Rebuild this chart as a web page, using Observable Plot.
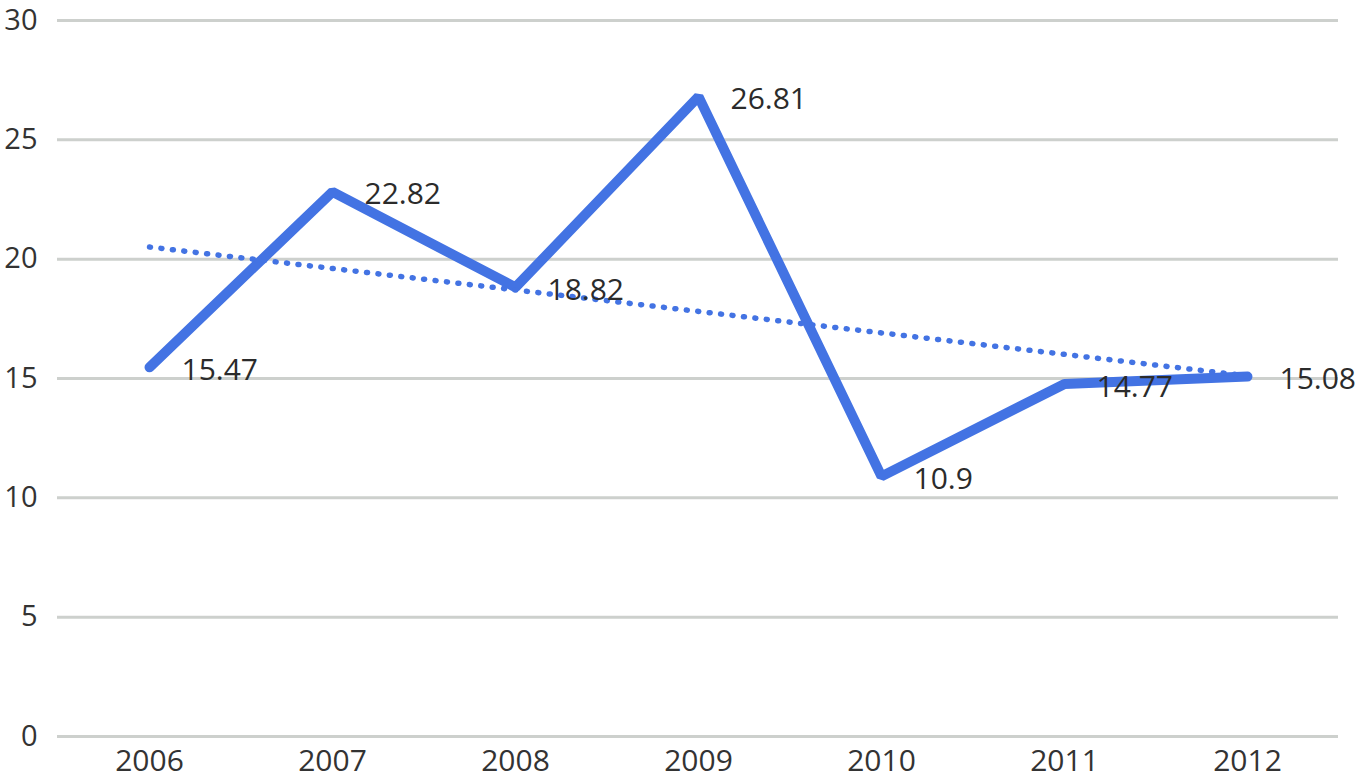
<!DOCTYPE html>
<html>
<head>
<meta charset="utf-8">
<script src="https://cdn.jsdelivr.net/npm/d3@7"></script>
<script src="https://cdn.jsdelivr.net/npm/@observablehq/plot@0.6"></script>
<style>
  html, body { margin: 0; padding: 0; background: #fff; }
  #chart svg { display: block; overflow: visible; }
</style>
</head>
<body>
<div id="chart"></div>
<script>
const years = ["2006", "2007", "2008", "2009", "2010", "2011", "2012"];
const values = [15.47, 22.82, 18.82, 26.81, 10.9, 14.77, 15.08];
const yTicks = [0, 5, 10, 15, 20, 25, 30];

const data = years.map((year, i) => ({year, value: values[i], i}));

// linear trend (least squares on index)
const n = values.length;
const mx = d3.mean(data, d => d.i);
const my = d3.mean(values);
const slope = d3.sum(data, d => (d.i - mx) * (d.value - my)) / d3.sum(data, d => (d.i - mx) ** 2);
const intercept = my - slope * mx;
const trend = [data[0], data[n - 1]].map(d => ({year: d.year, value: intercept + slope * d.i}));

const blue = "#4373e3";
const font = "Open Sans, sans-serif";

const chart = Plot.plot({
  width: 1358,
  height: 779,
  marginLeft: 57,
  marginRight: 20,
  marginTop: 20,
  marginBottom: 43,
  style: {fontFamily: font, background: "#fff", overflow: "visible"},
  x: {type: "point", domain: years, padding: 0.5, label: null},
  y: {domain: [0, 30], label: null},
  marks: [
    Plot.gridY(yTicks, {stroke: "#cdd0cd", strokeOpacity: 1, strokeWidth: 3}),
    Plot.axisY(yTicks, {tickSize: 0, tickPadding: 20, fontSize: 29, fill: "#333", label: null}),
    Plot.axisX({tickSize: 0, tickPadding: 13, fontSize: 30, fill: "#333", label: null}),
    Plot.line(data, {x: "year", y: "value", stroke: blue, strokeWidth: 10, strokeLinejoin: "miter", strokeLinecap: "round"}),
    Plot.line(trend, {x: "year", y: "value", stroke: blue, strokeWidth: 5.5, strokeLinecap: "round", strokeDasharray: "1 10.5"}),
    Plot.text(data, {x: "year", y: "value", text: d => String(d.value), textAnchor: "start", dx: 32, dy: 3, lineAnchor: "middle", fontSize: 30, fill: "#2b2b2b"})
  ]
});
document.getElementById("chart").appendChild(chart);
</script>
</body>
</html>
